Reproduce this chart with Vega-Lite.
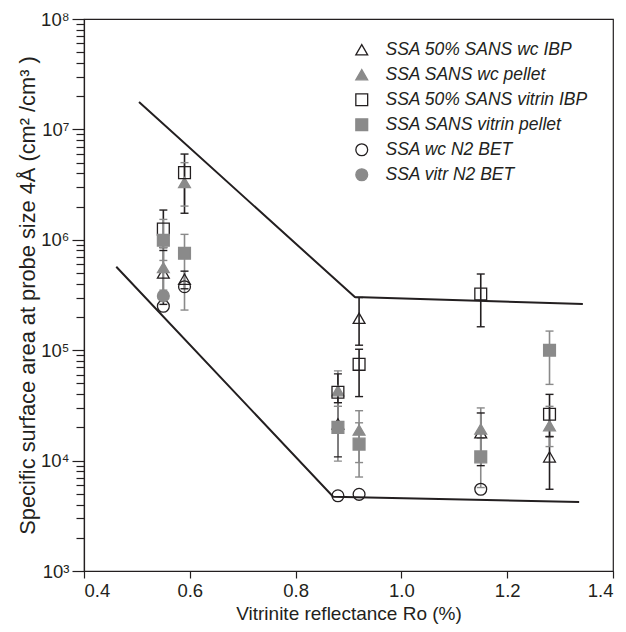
{
  "$schema": "https://vega.github.io/schema/vega-lite/v6.json",
  "autosize": "none",
  "width": 529,
  "height": 552,
  "padding": {"left": 84, "top": 19, "right": 13, "bottom": 61},
  "background": "white",
  "config": {
    "font": "Liberation Sans",
    "view": {"stroke": "#231f20", "strokeWidth": 1.2},
    "axis": {
      "domainColor": "#231f20", "domainWidth": 1.2,
      "tickColor": "#231f20", "tickWidth": 1.2,
      "labelColor": "#231f20", "titleColor": "#231f20",
      "labelFont": "Liberation Sans", "titleFont": "Liberation Sans",
      "labelFontSize": 18.5, "titleFontSize": 19, "titleFontWeight": "normal",
      "grid": false
    },
    "legend": {
      "labelFont": "Liberation Sans"
    }
  },
  "datasets": {
    "ssa": [
      {"ro": 0.55, "ssa": 500000, "lo": 260000, "hi": 800000, "series": "SSA 50% SANS wc IBP"},
      {"ro": 0.59, "ssa": 440000, "lo": 360000, "hi": 520000, "series": "SSA 50% SANS wc IBP"},
      {"ro": 0.88, "ssa": 21500, "lo": 10800, "hi": 33500, "series": "SSA 50% SANS wc IBP"},
      {"ro": 0.92, "ssa": 195000, "lo": 111000, "hi": 300000, "series": "SSA 50% SANS wc IBP"},
      {"ro": 1.15, "ssa": 17900, "lo": 9000, "hi": 27000, "series": "SSA 50% SANS wc IBP"},
      {"ro": 1.28, "ssa": 10800, "lo": 5500, "hi": 16500, "series": "SSA 50% SANS wc IBP"},

      {"ro": 0.55, "ssa": 560000, "lo": 350000, "hi": 850000, "series": "SSA SANS wc pellet"},
      {"ro": 0.59, "ssa": 3300000, "lo": 2020000, "hi": 5000000, "series": "SSA SANS wc pellet"},
      {"ro": 0.88, "ssa": 43000, "lo": 31000, "hi": 65000, "series": "SSA SANS wc pellet"},
      {"ro": 0.92, "ssa": 18900, "lo": 9600, "hi": 28300, "series": "SSA SANS wc pellet"},
      {"ro": 1.15, "ssa": 19300, "lo": 12000, "hi": 30000, "series": "SSA SANS wc pellet"},
      {"ro": 1.28, "ssa": 20700, "lo": 13400, "hi": 31000, "series": "SSA SANS wc pellet"},

      {"ro": 0.55, "ssa": 1250000, "lo": 850000, "hi": 1860000, "series": "SSA 50% SANS vitrin IBP"},
      {"ro": 0.59, "ssa": 4060000, "lo": 1740000, "hi": 5980000, "series": "SSA 50% SANS vitrin IBP"},
      {"ro": 0.88, "ssa": 41600, "lo": 33500, "hi": 61000, "series": "SSA 50% SANS vitrin IBP"},
      {"ro": 0.92, "ssa": 74500, "lo": 38000, "hi": 102000, "series": "SSA 50% SANS vitrin IBP"},
      {"ro": 1.15, "ssa": 323000, "lo": 163000, "hi": 490000, "series": "SSA 50% SANS vitrin IBP"},
      {"ro": 1.28, "ssa": 26300, "lo": 16500, "hi": 39800, "series": "SSA 50% SANS vitrin IBP"},

      {"ro": 0.55, "ssa": 990000, "lo": 650000, "hi": 1530000, "series": "SSA SANS vitrin pellet"},
      {"ro": 0.59, "ssa": 755000, "lo": 231000, "hi": 1120000, "series": "SSA SANS vitrin pellet"},
      {"ro": 0.88, "ssa": 20000, "lo": 9900, "hi": 31000, "series": "SSA SANS vitrin pellet"},
      {"ro": 0.92, "ssa": 14100, "lo": 7100, "hi": 22000, "series": "SSA SANS vitrin pellet"},
      {"ro": 1.15, "ssa": 10800, "lo": 5700, "hi": 16000, "series": "SSA SANS vitrin pellet"},
      {"ro": 1.28, "ssa": 100000, "lo": 49000, "hi": 149000, "series": "SSA SANS vitrin pellet"},

      {"ro": 0.55, "ssa": 250000, "lo": null, "hi": null, "series": "SSA wc N2 BET"},
      {"ro": 0.59, "ssa": 376000, "lo": null, "hi": null, "series": "SSA wc N2 BET"},
      {"ro": 0.88, "ssa": 4800, "lo": null, "hi": null, "series": "SSA wc N2 BET"},
      {"ro": 0.92, "ssa": 4950, "lo": null, "hi": null, "series": "SSA wc N2 BET"},
      {"ro": 1.15, "ssa": 5500, "lo": null, "hi": null, "series": "SSA wc N2 BET"},

      {"ro": 0.55, "ssa": 310000, "lo": null, "hi": null, "series": "SSA vitr N2 BET"}
    ],
    "trend": [
      {"line": "upper", "ro": 0.504, "ssa": 17700000},
      {"line": "upper", "ro": 0.912, "ssa": 303000},
      {"line": "upper", "ro": 1.343, "ssa": 262000},
      {"line": "lower", "ro": 0.461, "ssa": 570000},
      {"line": "lower", "ro": 0.871, "ssa": 4710},
      {"line": "lower", "ro": 1.336, "ssa": 4220}
    ]
  },
  "encoding": {
    "x": {
      "field": "ro", "type": "quantitative",
      "scale": {"domain": [0.4, 1.4], "nice": false, "zero": false},
      "axis": {
        "values": [0.4, 0.6, 0.8, 1.0, 1.2, 1.4],
        "format": ".1f",
        "tickSize": 7,
        "labelPadding": 3,
        "title": "Vitrinite reflectance Ro (%)",
        "titlePadding": 5
      }
    },
    "y": {
      "field": "ssa", "type": "quantitative",
      "scale": {"type": "log", "domain": [1000, 100000000], "nice": false},
      "axis": {
        "values": [1000, 2000, 3000, 4000, 5000, 6000, 7000, 8000, 9000,
                   10000, 20000, 30000, 40000, 50000, 60000, 70000, 80000, 90000,
                   100000, 200000, 300000, 400000, 500000, 600000, 700000, 800000, 900000,
                   1000000, 2000000, 3000000, 4000000, 5000000, 6000000, 7000000, 8000000, 9000000,
                   10000000, 20000000, 30000000, 40000000, 50000000, 60000000, 70000000, 80000000, 90000000,
                   100000000],
        "labelExpr": "abs(log(datum.value)/LN10 - round(log(datum.value)/LN10)) < 0.0001 ? '10' + ['⁰','¹','²','³','⁴','⁵','⁶','⁷','⁸'][round(log(datum.value)/LN10)] : ''",
        "tickSize": {"condition": {"test": "abs(log(datum.value)/LN10 - round(log(datum.value)/LN10)) < 0.0001", "value": 12}, "value": 8},
        "labelPadding": 3,
        "labelFlush": false,
        "labelOverlap": false,
        "title": "Specific surface area at probe size 4Å (cm² /cm³ )",
        "titleFontSize": 21.8,
        "titlePadding": 1
      }
    }
  },
  "layer": [
    {
      "data": {"name": "trend"},
      "mark": {"type": "line", "color": "#231f20", "strokeWidth": 2},
      "encoding": {"detail": {"field": "line"}}
    },
    {
      "data": {"name": "ssa"},
      "transform": [{"filter": "datum.lo != null"}],
      "layer": [
        {
          "mark": {"type": "rule", "strokeWidth": 1.6},
          "encoding": {
            "y": {"field": "lo", "type": "quantitative"},
            "y2": {"field": "hi"}
          }
        },
        {
          "mark": {"type": "tick", "orient": "horizontal", "size": 8, "thickness": 1.4, "opacity": 1},
          "encoding": {"y": {"field": "lo", "type": "quantitative"}}
        },
        {
          "mark": {"type": "tick", "orient": "horizontal", "size": 8, "thickness": 1.4, "opacity": 1},
          "encoding": {"y": {"field": "hi", "type": "quantitative"}}
        }
      ],
      "encoding": {
        "color": {
          "field": "series", "type": "nominal", "legend": null,
          "scale": {
            "domain": ["SSA 50% SANS wc IBP", "SSA SANS wc pellet", "SSA 50% SANS vitrin IBP", "SSA SANS vitrin pellet", "SSA wc N2 BET", "SSA vitr N2 BET"],
            "range": ["#231f20", "#8a8a8a", "#231f20", "#8a8a8a", "#231f20", "#8a8a8a"]
          }
        }
      }
    },
    {
      "data": {"name": "ssa"},
      "mark": {"type": "point", "filled": false, "opacity": 1, "strokeWidth": 1.3, "size": 140},
      "encoding": {
        "shape": {
          "field": "series", "type": "nominal",
          "scale": {
            "domain": ["SSA 50% SANS wc IBP", "SSA SANS wc pellet", "SSA 50% SANS vitrin IBP", "SSA SANS vitrin pellet", "SSA wc N2 BET", "SSA vitr N2 BET"],
            "range": ["triangle-up", "triangle-up", "square", "square", "circle", "circle"]
          },
          "legend": {
            "orient": "none", "legendX": 269, "legendY": 22,
            "title": null,
            "labelFontSize": 17.5, "labelFontStyle": "italic", "labelColor": "#231f20",
            "labelOffset": 15, "labelLimit": 400,
            "symbolSize": 140, "symbolStrokeWidth": 1.3,
            "rowPadding": 6
          }
        },
        "fill": {
          "field": "series", "type": "nominal",
          "scale": {
            "domain": ["SSA 50% SANS wc IBP", "SSA SANS wc pellet", "SSA 50% SANS vitrin IBP", "SSA SANS vitrin pellet", "SSA wc N2 BET", "SSA vitr N2 BET"],
            "range": ["transparent", "#8a8a8a", "transparent", "#8a8a8a", "transparent", "#8a8a8a"]
          }
        },
        "stroke": {
          "field": "series", "type": "nominal",
          "scale": {
            "domain": ["SSA 50% SANS wc IBP", "SSA SANS wc pellet", "SSA 50% SANS vitrin IBP", "SSA SANS vitrin pellet", "SSA wc N2 BET", "SSA vitr N2 BET"],
            "range": ["#231f20", "#8a8a8a", "#231f20", "#8a8a8a", "#231f20", "#8a8a8a"]
          }
        }
      }
    }
  ],
  "resolve": {"scale": {"color": "independent"}, "legend": {"color": "independent"}}
}
